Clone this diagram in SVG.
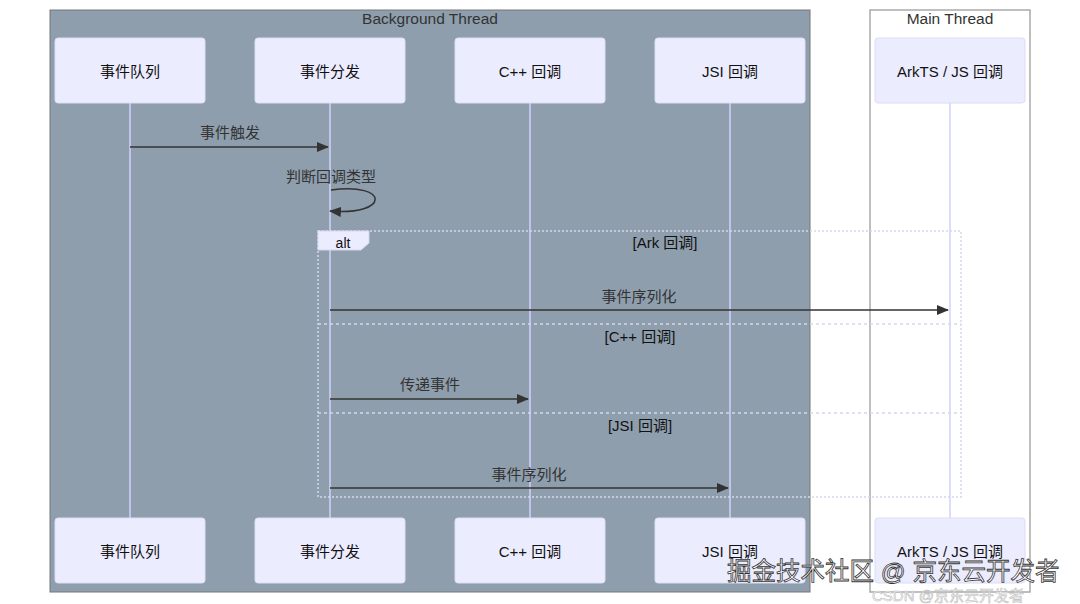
<svg xmlns="http://www.w3.org/2000/svg" width="1080" height="604" viewBox="0 0 1080 604">
<defs>
<marker id="arr" viewBox="0 0 12 10" refX="11" refY="5" markerWidth="12" markerHeight="10" markerUnits="userSpaceOnUse" orient="auto">
<path d="M0,0 L12,5 L0,10 z" fill="#333"/>
</marker>
<style>
text{font-family:"Liberation Sans","Noto Sans CJK SC",sans-serif}
.actor rect{fill:#ECECFF;stroke:#dcdcf5;stroke-width:1}
.actor text{font-size:15px;fill:#111;text-anchor:middle;dominant-baseline:central}
.life{stroke:#d0d0ff;stroke-width:1.5}
.msg{stroke:#333;stroke-width:1.5;fill:none;marker-end:url(#arr)}
.mlabel{font-size:15px;fill:#333;text-anchor:middle}
.altb{fill:none;stroke:#d6d6f0;stroke-width:1.5;stroke-dasharray:2,2}
.sep{stroke:#d6d6f0;stroke-width:1.5;stroke-dasharray:3,3}
.cond{font-size:15px;fill:#111;text-anchor:middle}
</style>
</defs>
<rect width="1080" height="604" fill="#fff"/>
<g id="bg-thread">
<rect x="50" y="10" width="760" height="582" fill="#8e9ead" stroke="#777" stroke-width="1"/>
<text x="430" y="24" font-size="15.5" fill="#333" text-anchor="middle">Background Thread</text>
</g>
<g id="main-thread">
<rect x="870" y="10" width="160" height="582" fill="#fff" stroke="#aaa" stroke-width="1.5"/>
<text x="950" y="24" font-size="15.5" fill="#333" text-anchor="middle">Main Thread</text>
</g>
<g id="lifelines">
<line class="life" x1="130" y1="103" x2="130" y2="518"/>
<line class="life" x1="330" y1="103" x2="330" y2="518"/>
<line class="life" x1="530" y1="103" x2="530" y2="518"/>
<line class="life" x1="730" y1="103" x2="730" y2="518"/>
<line class="life" x1="950" y1="103" x2="950" y2="518"/>
</g>
<g id="actor-queue-top" class="actor"><rect x="55" y="38" width="150" height="65" rx="3"/><text x="130" y="71">事件队列</text></g>
<g id="actor-dispatch-top" class="actor"><rect x="255" y="38" width="150" height="65" rx="3"/><text x="330" y="71">事件分发</text></g>
<g id="actor-cpp-top" class="actor"><rect x="455" y="38" width="150" height="65" rx="3"/><text x="530" y="71">C++ 回调</text></g>
<g id="actor-jsi-top" class="actor"><rect x="655" y="38" width="150" height="65" rx="3"/><text x="730" y="71">JSI 回调</text></g>
<g id="actor-ark-top" class="actor"><rect x="875" y="38" width="150" height="65" rx="3"/><text x="950" y="71">ArkTS / JS 回调</text></g>
<g id="actor-queue-bottom" class="actor"><rect x="55" y="518" width="150" height="65" rx="3"/><text x="130" y="551">事件队列</text></g>
<g id="actor-dispatch-bottom" class="actor"><rect x="255" y="518" width="150" height="65" rx="3"/><text x="330" y="551">事件分发</text></g>
<g id="actor-cpp-bottom" class="actor"><rect x="455" y="518" width="150" height="65" rx="3"/><text x="530" y="551">C++ 回调</text></g>
<g id="actor-jsi-bottom" class="actor"><rect x="655" y="518" width="150" height="65" rx="3"/><text x="730" y="551">JSI 回调</text></g>
<g id="actor-ark-bottom" class="actor"><rect x="875" y="518" width="150" height="65" rx="3"/><text x="950" y="551">ArkTS / JS 回调</text></g>
<g id="alt-block">
<rect class="altb" x="318" y="231" width="643" height="266"/>
<path d="M318,231 H369 V243 L361,250 H318 Z" fill="#ECECFF" stroke="#d6d6f0" stroke-width="1"/>
<text x="343" y="248" font-size="14" fill="#111" text-anchor="middle">alt</text>
<text class="cond" x="665" y="248">[Ark 回调]</text>
<line class="sep" x1="318" y1="324" x2="961" y2="324"/>
<text class="cond" x="640" y="342">[C++ 回调]</text>
<line class="sep" x1="318" y1="413" x2="961" y2="413"/>
<text class="cond" x="640" y="431">[JSI 回调]</text>
</g>
<g id="connectors">
<line class="msg" x1="130" y1="147" x2="328" y2="147"/>
<text class="mlabel" x="230" y="138">事件触发</text>
<path class="msg" d="M331,190 C390,182 390,216 330,211"/>
<text class="mlabel" x="331" y="182">判断回调类型</text>
<line class="msg" x1="330" y1="310" x2="948" y2="310"/>
<text class="mlabel" x="639" y="302">事件序列化</text>
<line class="msg" x1="330" y1="399" x2="528" y2="399"/>
<text class="mlabel" x="430" y="390">传递事件</text>
<line class="msg" x1="330" y1="488" x2="728" y2="488"/>
<text class="mlabel" x="529" y="480">事件序列化</text>
</g>
<g id="watermark">
<text x="727" y="580" font-size="24.5" fill="#fff" stroke="#333" stroke-width="0.8" font-family="'Noto Sans CJK SC',sans-serif">掘金技术社区 @ 京东云开发者</text>
<text x="872" y="601" font-size="15" fill="#fff" stroke="#bbb" stroke-width="0.6" font-family="'Noto Sans CJK SC',sans-serif">CSDN @京东云开发者</text>
</g>
</svg>
